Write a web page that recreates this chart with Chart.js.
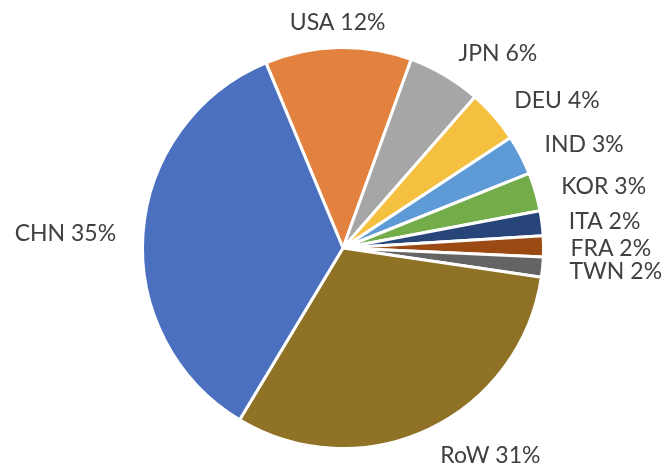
<!DOCTYPE html>
<html>
<head>
<meta charset="utf-8">
<script src="https://cdn.jsdelivr.net/npm/chart.js@4"></script>
<style>
html,body{margin:0;padding:0;background:#fff;}
#wrap{width:666px;height:467px;position:relative;}
</style>
</head>
<body>
<div id="wrap"><canvas id="c" width="666" height="467"></canvas></div>
<script>
const countries = ['USA','JPN','DEU','IND','KOR','ITA','FRA','TWN','RoW','CHN'];
const shares = [11.8, 5.9, 4.3, 3.2, 3.1, 2.0, 1.7, 1.6, 31.3, 35.1];
const colors = ['#e3813f','#a6a6a6','#f5bf3f','#5d9ad6','#72ad4a','#28457a','#9c4a14','#646464','#8f7226','#4a70bf'];

const outsideLabels = {
  id: 'outsideLabels',
  afterDatasetsDraw(chart) {
    const ctx = chart.ctx;
    const meta = chart.getDatasetMeta(0);
    ctx.save();
    ctx.font = '23px Lato';
    ctx.fillStyle = '#404040';
    ctx.textBaseline = 'middle';
    meta.data.forEach((arc, i) => {
      const mid = (arc.startAngle + arc.endAngle) / 2;
      const R = arc.outerRadius + 27;
      const cx = Math.cos(mid), sy = Math.sin(mid);
      const x = arc.x + R * cx;
      const y = arc.y + R * sy + 2;
      ctx.textAlign = cx > 0.25 ? 'left' : (cx < -0.25 ? 'right' : 'center');
      ctx.fillText(countries[i] + ' ' + Math.round(shares[i]) + '%', x, y);
    });
    ctx.restore();
  }
};

new Chart(document.getElementById('c'), {
  type: 'pie',
  data: {
    labels: countries,
    datasets: [{
      data: shares,
      backgroundColor: colors,
      borderColor: '#ffffff',
      borderWidth: 3
    }]
  },
  options: {
    responsive: false,
    animation: false,
    rotation: -22.6,
    layout: { padding: { left: 141, right: 121, top: 46, bottom: 17 } },
    plugins: { legend: { display: false }, tooltip: { enabled: false } }
  },
  plugins: [outsideLabels]
});
</script>
</body>
</html>
